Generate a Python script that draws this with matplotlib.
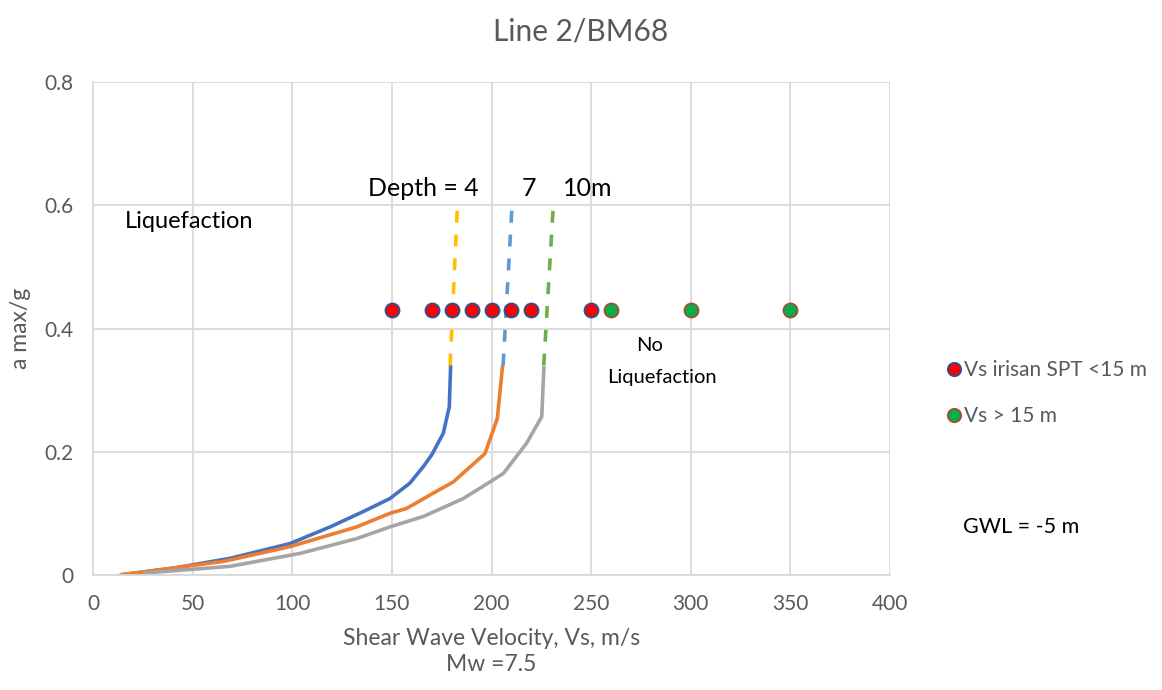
import matplotlib
matplotlib.use("Agg")
import matplotlib.pyplot as plt
from matplotlib.lines import Line2D

plt.rcParams['font.family'] = ['Lato', 'DejaVu Sans']

# boundary curves, Vs (m/s) against a max/g
vs_4m = [13.5, 40.3, 68.8, 98.9, 119, 135.7, 149, 159, 165.8, 170, 175.8, 178.8, 179.5]
a_4m = [0.0, 0.011, 0.027, 0.051, 0.078, 0.103, 0.124, 0.149, 0.176, 0.195, 0.23, 0.273, 0.341]

vs_7m = [13.5, 65.4, 98.9, 132.3, 149, 157.4, 170.8, 180.8, 196.7, 202.9, 205.6]
a_7m = [0.0, 0.022, 0.046, 0.078, 0.100, 0.108, 0.133, 0.151, 0.197, 0.254, 0.341]

vs_10m = [25.2, 68.8, 103.9, 132.3, 149, 165.8, 185.8, 199.2, 206, 217.6, 225.2, 226.3]
a_10m = [0.003, 0.014, 0.035, 0.059, 0.078, 0.095, 0.124, 0.151, 0.165, 0.214, 0.257, 0.339]

# dashed extensions above the curves
ext_4m_vs, ext_4m_a = [179.2, 182.9], [0.34, 0.60]
ext_7m_vs, ext_7m_a = [205.8, 210.3], [0.34, 0.60]
ext_10m_vs, ext_10m_a = [226.2, 231.0], [0.34, 0.60]

# measured shear wave velocities
vs_spt = [150, 170, 180, 190, 200, 210, 220, 250]
a_spt = [0.43] * len(vs_spt)
vs_deep = [260, 300, 350]
a_deep = [0.43] * len(vs_deep)

fig = plt.figure(figsize=(11.62, 6.9), dpi=100)
ax = fig.add_axes([0.080, 0.1667, 0.686, 0.7143])

grid_col = '#d9d9d9'
text_col = '#595959'

ax.plot(vs_4m, a_4m, color='#4472c4', lw=2.6, solid_capstyle='butt')
ax.plot(vs_7m, a_7m, color='#ed7d31', lw=2.6, solid_capstyle='butt')
ax.plot(vs_10m, a_10m, color='#a5a5a5', lw=2.6, solid_capstyle='butt')

ax.plot(ext_4m_vs, ext_4m_a, color='#ffc000', lw=2.6, dashes=(3.3, 3.3))
ax.plot(ext_7m_vs, ext_7m_a, color='#5b9bd5', lw=2.6, dashes=(3.3, 3.3))
ax.plot(ext_10m_vs, ext_10m_a, color='#70ad47', lw=2.6, dashes=(3.3, 3.3))

ax.scatter(vs_spt, a_spt, s=100, color='#ff0000', edgecolors='#2f4f8f', linewidths=1.4, zorder=5)
ax.scatter(vs_deep, a_deep, s=100, color='#00b050', edgecolors='#a0522d', linewidths=1.4, zorder=5)

ax.set_xlim(0, 400)
ax.set_ylim(0, 0.8)
ax.set_xticks(range(0, 401, 50))
ax.set_yticks([0, 0.2, 0.4, 0.6, 0.8])
ax.set_yticklabels(['0', '0.2', '0.4', '0.6', '0.8'])
ax.grid(True, color=grid_col, lw=1.3)
ax.set_axisbelow(True)
for side, sp in ax.spines.items():
    if side in ('left', 'bottom'):
        sp.set_color(grid_col)
        sp.set_linewidth(1.3)
    else:
        sp.set_visible(False)
ax.tick_params(length=0, colors=text_col, labelsize=15)
ax.tick_params(axis='x', pad=14)
ax.tick_params(axis='y', pad=14)

ax.set_xlabel('Shear Wave Velocity, Vs, m/s\nMw =7.5', fontsize=16.5, color=text_col,
              labelpad=10, linespacing=1.3)
ax.set_ylabel('a max/g', fontsize=16.5, color=text_col, labelpad=10)
fig.text(0.5, 0.955, 'Line 2/BM68', ha='center', va='center', fontsize=21.5, color=text_col)

ax.text(138, 0.627, 'Depth = 4', fontsize=18, va='center')
ax.text(215, 0.627, '7', fontsize=18, va='center')
ax.text(236, 0.627, '10m', fontsize=18, va='center')
ax.text(16, 0.573, 'Liquefaction', fontsize=17, va='center')
ax.text(279.5, 0.373, 'No', fontsize=14.5, va='center', ha='center')
ax.text(285.6, 0.320, 'Liquefaction', fontsize=14.5, va='center', ha='center')
fig.text(0.829, 0.236, 'GWL = -5 m', fontsize=15.5, va='center')

handles = [
    Line2D([], [], ls='none', marker='o', ms=9.5, mfc='#ff0000', mec='#2f4f8f', mew=1.4),
    Line2D([], [], ls='none', marker='o', ms=9.5, mfc='#00b050', mec='#a0522d', mew=1.4),
]
fig.legend(handles, ['Vs irisan SPT <15 m', 'Vs > 15 m'], loc='upper left',
           bbox_to_anchor=(0.801, 0.502), frameon=False, fontsize=15,
           labelcolor=text_col, handlelength=0.6, handletextpad=0.2,
           labelspacing=1.25, borderpad=0.3)

fig.savefig('out.png', dpi=100)
